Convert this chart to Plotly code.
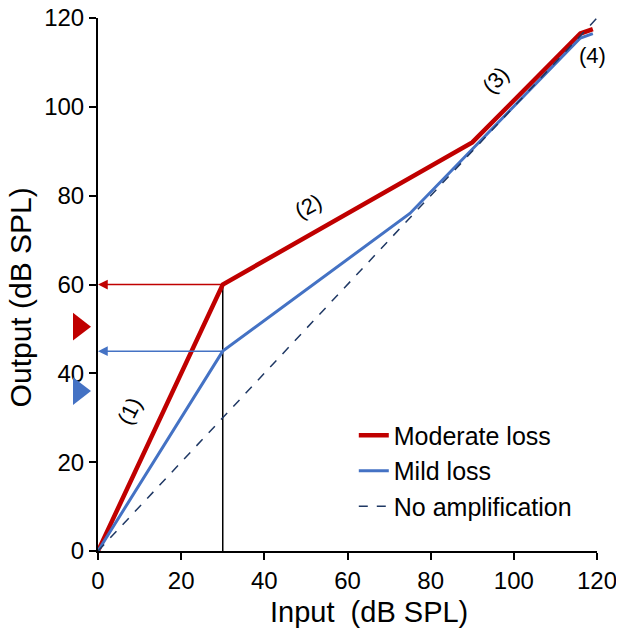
import plotly.graph_objects as go

# input/output curves (dB SPL)
moderate_x = [0, 30, 90, 116, 119]
moderate_y = [0, 60, 92, 116.5, 117.5]
mild_x = [0, 30, 75, 116, 119]
mild_y = [0, 45, 76, 115.5, 116.5]
diag_x = [0, 120]
diag_y = [0, 120]

# arrows and side markers
arrow_levels = [60, 45]
arrow_colors = ['#C00000', '#4472C4']
marker_levels = [50.5, 36]

# segment labels
seg_text = ['(1)', '(2)', '(3)', '(4)']
seg_x = [7.5, 50.5, 95.5, 119]
seg_y = [31.5, 77.5, 106, 111.5]
seg_angle = [-63, -28, -47, 0]

red = '#C00000'
blue = '#4472C4'
font = 'Liberation Sans, Arial, sans-serif'

# page body adds 8px, so figure is a bit smaller than the window
W, H = 616, 627
L, R, T, B = 40, 27, 10, 84
plot_w = W - L - R
x_start = 50 / plot_w   # main axis starts 50px inside the plot area

fig = go.Figure()

# vertical guide at 30 dB
fig.add_trace(go.Scatter(x=[30, 30], y=[0, 60], mode='lines',
                         line=dict(color='black', width=1.5), showlegend=False, hoverinfo='skip'))

fig.add_trace(go.Scatter(x=moderate_x, y=moderate_y, mode='lines', name='Moderate loss',
                         line=dict(color=red, width=4.5)))
fig.add_trace(go.Scatter(x=mild_x, y=mild_y, mode='lines', name='Mild loss',
                         line=dict(color=blue, width=3)))
fig.add_trace(go.Scatter(x=diag_x, y=diag_y, mode='lines', name='No amplification',
                         line=dict(color='#1F3864', width=1.5, dash='dash')))

# triangles left of the axis, on a small helper x-axis
fig.add_trace(go.Scatter(x=[0.62, 0.62], y=marker_levels, mode='markers', xaxis='x2', yaxis='y',
                         marker=dict(symbol='triangle-right', size=24, color=arrow_colors),
                         showlegend=False, hoverinfo='skip'))

for lvl, col in zip(arrow_levels, arrow_colors):
    fig.add_annotation(x=0, y=lvl, ax=30, ay=lvl, xref='x', yref='y', axref='x', ayref='y',
                       text='', showarrow=True, arrowhead=2, arrowsize=1.3,
                       arrowwidth=1.5, arrowcolor=col)

for t, x, y, a in zip(seg_text, seg_x, seg_y, seg_angle):
    fig.add_annotation(x=x, y=y, text=t, showarrow=False, textangle=a,
                       font=dict(size=22, color='black', family=font))

# axis titles
fig.add_annotation(x=0.585, y=-0.1144, xref='paper', yref='paper', text='Input  (dB SPL)',
                   xanchor='center', yanchor='middle', showarrow=False, font=dict(size=29))
fig.add_annotation(x=-0.05, y=0.475, xref='paper', yref='paper', text='Output (dB SPL)',
                   xanchor='center', yanchor='middle', showarrow=False, textangle=-90,
                   font=dict(size=30))

fig.update_layout(
    width=W, height=H,
    margin=dict(l=L, r=R, t=T, b=B, autoexpand=False),
    plot_bgcolor='white', paper_bgcolor='white',
    font=dict(family=font, size=22, color='black'),
    showlegend=True,
    legend=dict(x=0.557, y=0.26, xanchor='left', yanchor='top',
                font=dict(size=25), bgcolor='rgba(0,0,0,0)',
                tracegroupgap=0),
    xaxis=dict(domain=[x_start, 1], range=[0, 120], dtick=20, showline=True, linecolor='black',
               linewidth=2, ticks='outside', ticklen=7, tickwidth=2, tickcolor='black',
               showgrid=False, zeroline=False, ticklabeloverflow='allow', automargin=False,
               tickfont=dict(size=24)),
    xaxis2=dict(domain=[0, x_start], range=[0, 1], visible=False, anchor='y'),
    yaxis=dict(range=[0, 120], dtick=20, showline=True, linecolor='black', linewidth=2,
               ticks='outside', ticklen=7, tickwidth=2, tickcolor='black', showgrid=False,
               zeroline=False, ticklabeloverflow='allow', automargin=False,
               tickfont=dict(size=24)),
)

fig.write_html('out.html')
